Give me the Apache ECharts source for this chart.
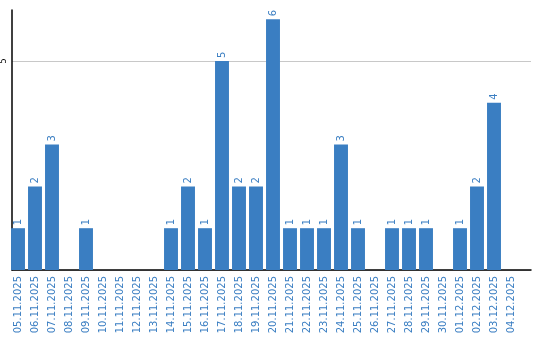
<!DOCTYPE html>
<html><head><meta charset="utf-8">
<script src="https://cdn.jsdelivr.net/npm/echarts@6/dist/echarts.min.js"></script>
<style>html,body{margin:0;padding:0;background:#fff}#c{width:540px;height:340px}</style>
</head><body><div id="c"></div>
<script>
const categories = ["05.11.2025","06.11.2025","07.11.2025","08.11.2025","09.11.2025","10.11.2025","11.11.2025","12.11.2025","13.11.2025","14.11.2025","15.11.2025","16.11.2025","17.11.2025","18.11.2025","19.11.2025","20.11.2025","21.11.2025","22.11.2025","23.11.2025","24.11.2025","25.11.2025","26.11.2025","27.11.2025","28.11.2025","29.11.2025","30.11.2025","01.12.2025","02.12.2025","03.12.2025","04.12.2025"];
const values = [1,2,3,0,1,0,0,0,0,1,2,1,5,2,2,6,1,1,1,3,1,0,1,1,1,0,1,2,4,0];
const yTicks = [5];
const color = '#3a7ec2';
const yMax = 6.22;
const chart = echarts.init(document.getElementById('c'));
chart.setOption({
  animation: false,
  grid: [
    {left: 10, right: 9, top: 10, bottom: 70},
    {left: 9.5, right: 20.5, top: 10, bottom: 70}
  ],
  xAxis: [
    {gridIndex: 0, type: 'value', min: 0, max: 1, axisLine: {show: true, lineStyle: {color: '#000', width: 1.5}},
      axisTick: {show: false}, axisLabel: {show: false}, splitLine: {show: false}},
    {gridIndex: 1, type: 'category', data: categories,
      axisLine: {show: false}, axisTick: {show: false},
      axisLabel: {rotate: 90, interval: 0, color: color, fontFamily: 'DejaVu Sans', fontSize: 10, margin: 6}}
  ],
  yAxis: [
    {gridIndex: 0, type: 'value', min: 0, max: yMax, interval: 5,
      axisLine: {show: true, lineStyle: {color: '#000', width: 1.5}},
      axisTick: {show: false},
      splitLine: {showMaxLine: false, lineStyle: {color: '#c8c8c8', width: 1}},
      axisLabel: {rotate: 90, color: '#000', fontFamily: 'DejaVu Sans', fontSize: 8, margin: 4,
        showMaxLabel: false, formatter: v => yTicks.includes(v) ? String(v) : ''}},
    {gridIndex: 1, type: 'value', min: 0, max: yMax, show: false, splitLine: {show: false}}
  ],
  series: [{
    type: 'bar', xAxisIndex: 1, yAxisIndex: 1, data: values, barCategoryGap: '18%',
    itemStyle: {color: color},
    label: {
      show: true, position: 'top', rotate: 90, align: 'left', verticalAlign: 'middle',
      distance: 3, color: color, fontFamily: 'DejaVu Sans', fontSize: 10,
      formatter: p => p.value > 0 ? String(p.value) : ''
    }
  }]
});
</script></body></html>
